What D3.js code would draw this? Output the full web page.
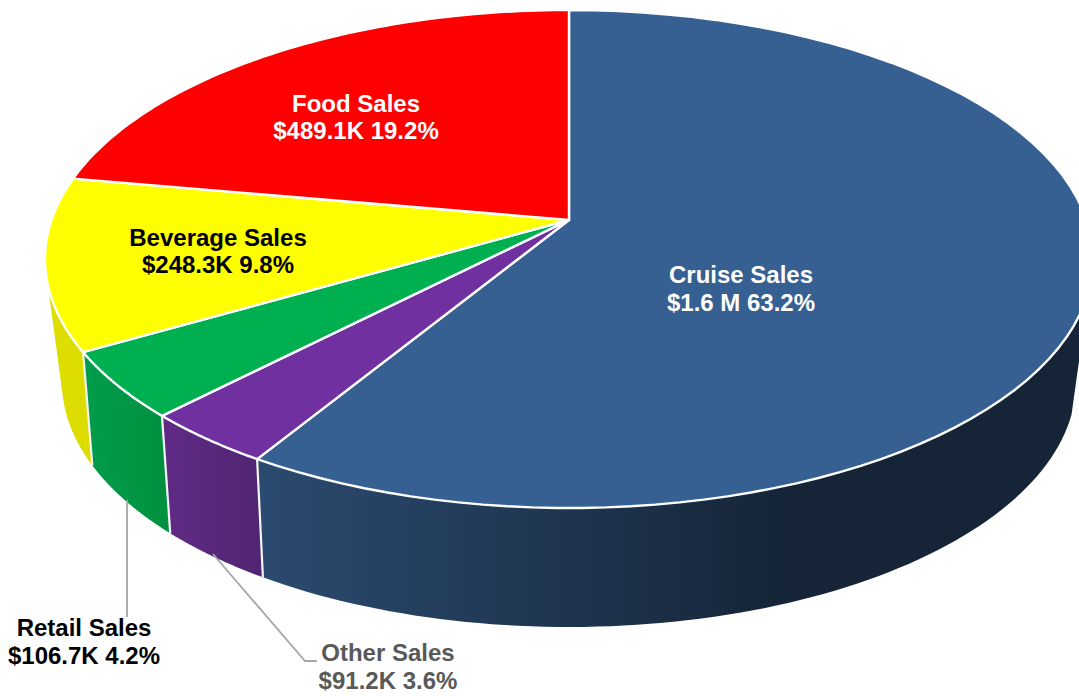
<!DOCTYPE html>
<html><head><meta charset="utf-8">
<style>html,body{margin:0;padding:0;background:#fff}svg{display:block}text{font-family:"Liberation Sans",Arial,sans-serif;font-weight:700;font-size:24px;text-anchor:middle}</style>
<script src="https://cdn.jsdelivr.net/npm/d3@7/dist/d3.min.js"></script>
</head><body><svg id="c" width="1079" height="696"></svg>
<script>
// Data (thousands of dollars), clockwise from 12 o'clock
const categories = ["Cruise Sales","Other Sales","Retail Sales","Beverage Sales","Food Sales"];
const salesK = [1608, 91.2, 106.7, 248.3, 489.1];
const valueLabels = ["$1.6 M","$91.2K","$106.7K","$248.3K","$489.1K"];

// Styles
const topColors = ["#366092","#7030a0","#00b050","#ffff00","#ff0000"];
const wallStops = [["#2b4a6f","#152436"],["#5f2a85","#4f2570"],["#009c4b","#00903f"],["#dede00","#dcdc00"],["#c00","#c00"]];
const wallRanges = [[264,800],[170,264],[90,170],[45,93],[0,100]];
const textColors = ["#fff","#595959","#000","#000","#fff"];
const labelPos = [[741,283,311],[388,661,689],[84,636,664],[218,246,273],[356,112,139]];

// Projection of the tilted disc
const apex=[569,220];
const topE={cx:569,cy:259,rx:524,ry:249};
const botE={cx:569,cy:382,rx:507,ry:245};
const rad=Math.PI/180;
const wallFrom=97*rad, wallTo=264*rad;
const persA=11.85*rad, persB=9.214*rad, persC=4.04*rad;
const warp=a=>a-(persA*Math.sin(a)+persB*(1-Math.cos(a))+persC*(1-Math.cos(2*a)));
const off=d3.scaleLinear().domain([216*rad,231*rad,250*rad]).range([0.6*rad,0.9*rad,2.2*rad]).clamp(true);
const pt=(e,t)=>[e.cx+e.rx*Math.sin(t),e.cy-e.ry*Math.cos(t)];

const pie=d3.pie().sort(null).startAngle(0).endAngle(2*Math.PI);
const arcs=pie(salesK);
const total=d3.sum(salesK);
const line=d3.line();
const svg=d3.select("#c");
const defs=svg.append("defs");
const samples=(a,b)=>d3.range(0,81).map(i=>a+(b-a)*i/80);

arcs.forEach((d,i)=>{
  const g=defs.append("linearGradient").attr("id","w"+i).attr("gradientUnits","userSpaceOnUse")
    .attr("x1",wallRanges[i][0]).attr("x2",wallRanges[i][1]).attr("y1",0).attr("y2",0);
  g.append("stop").attr("offset",0).attr("stop-color",wallStops[i][0]);
  g.append("stop").attr("offset",1).attr("stop-color",wallStops[i][1]);
});

// Walls
const walls=svg.append("g");
arcs.forEach((d,i)=>{
  const a=Math.max(warp(d.startAngle),wallFrom), b=Math.min(warp(d.endAngle),wallTo);
  if(b<=a) return;
  const ts=samples(a,b);
  const poly=ts.map(t=>pt(topE,t)).concat(ts.slice().reverse().map(t=>pt(botE,t+off(t))));
  walls.append("path").attr("d",line(poly)+"Z").attr("fill",`url(#w${i})`);
});
arcs.forEach((d,i)=>{
  const b=warp(d.endAngle);
  if(b>wallFrom && b<wallTo){
    walls.append("path").attr("d",line([pt(topE,b),pt(botE,b+off(b))]))
      .attr("stroke","#f4f4f4").attr("stroke-width",2.2).attr("fill","none");
  }
});

// Top surface
svg.append("g").selectAll("path").data(arcs).join("path")
  .attr("d",d=>line([apex].concat(samples(warp(d.startAngle),warp(d.endAngle)).map(t=>pt(topE,t))))+"Z")
  .attr("fill",(d,i)=>topColors[i])
  .attr("stroke","#fff").attr("stroke-width",2.4).attr("stroke-linejoin","round");

// Leader lines
const leaders=[[[127,500],[127,617]],[[213,554],[305,661],[317,661]]];
svg.append("g").selectAll("path").data(leaders).join("path")
  .attr("d",d=>line(d)).attr("fill","none").attr("stroke","#a6a6a6").attr("stroke-width",1.8);

// Labels
const lab=svg.append("g");
categories.forEach((c,i)=>{
  const p=labelPos[i];
  const pct=(salesK[i]/total*100).toFixed(1)+"%";
  lab.append("text").attr("x",p[0]).attr("y",p[1]).attr("fill",textColors[i]).text(c);
  lab.append("text").attr("x",p[0]).attr("y",p[2]).attr("fill",textColors[i]).text(valueLabels[i]+" "+pct);
});
</script></body></html>
